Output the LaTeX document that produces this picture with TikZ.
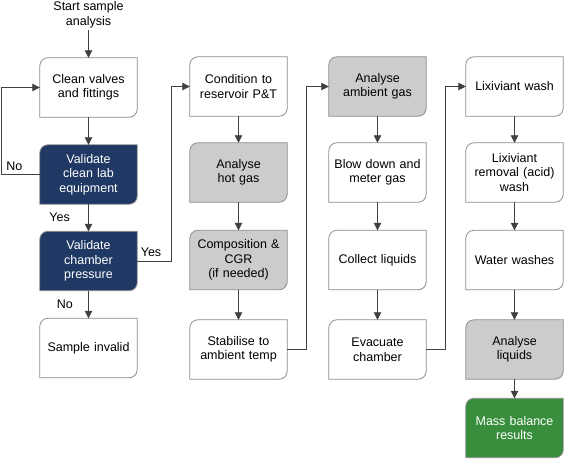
\documentclass[tikz,border=0pt]{standalone}
\usepackage{fontspec}
\setmainfont{Liberation Sans}
\usetikzlibrary{arrows.meta,backgrounds}

\definecolor{boxedge}{HTML}{8C8C8C}
\definecolor{wireline}{HTML}{404040}
\definecolor{checkblue}{HTML}{1F3864}
\definecolor{labgray}{HTML}{CCCCCC}
\definecolor{resultgreen}{HTML}{388E3C}

\tikzset{
  stepbox/.style={minimum width=97pt, minimum height=59pt, text width=93pt,
    align=center, inner sep=0pt, font=\fontsize{12.5}{14.5}\selectfont},
  checkbox/.style={stepbox, text=white},
  flow/.style={->, draw=wireline, line width=0.8pt},
  lbl/.style={font=\fontsize{12.5}{14.5}\selectfont},
}

% outline with rounded top-left and bottom-right corners
\newcommand{\leafbox}[2]{%
  \begin{pgfonlayer}{background}
    \path[draw=boxedge, line width=0.8pt, fill=#2]
      (#1.west) [rounded corners=8pt] -- (#1.north west) -- (#1.north)
      [sharp corners] -- (#1.north east) -- (#1.east)
      [rounded corners=8pt] -- (#1.south east) -- (#1.south)
      [sharp corners] -- (#1.south west) -- cycle;
  \end{pgfonlayer}}

\begin{document}
\begin{tikzpicture}[x=1pt, y=-1pt, >={Triangle[width=7.5pt,length=7.5pt]}]
\useasboundingbox (0,0) rectangle (564,459);

%------------------ COLUMN 1 (checks) ------------------%
\node[lbl, align=center, inner sep=2pt] (start) at (88.5,15) {Start sample\\analysis};
\node[stepbox] (clean) at (88.5,87.5) {Clean valves\\and fittings};
\node[checkbox] (labeq) at (88.5,174.5) {Validate\\clean lab\\equipment};
\node[checkbox] (press) at (88.5,261) {Validate\\chamber\\pressure};
\node[stepbox] (invalid) at (88.5,348) {Sample invalid};
\leafbox{clean}{white}
\leafbox{labeq}{checkblue}
\leafbox{press}{checkblue}
\leafbox{invalid}{white}

\draw[flow] (start) -- (clean);
\draw[flow] (clean) -- (labeq);
\draw[flow] (labeq) -- node[lbl, left=15pt] {Yes} (press);
\draw[flow] (press) -- node[lbl, left=12pt] {No} (invalid);
\draw[flow] (labeq.west) -- ++(-38,0) node[lbl, pos=0.67, above] {No} |- (clean.west);

%------------------ COLUMN 2 (hot) ------------------%
\node[stepbox] (cond) at (238.5,86.5) {Condition to\\reservoir P\&T};
\node[stepbox] (hotgas) at (238.5,172.5) {Analyse\\hot gas};
\node[stepbox] (cgr) at (238.5,260) {Composition \&\\CGR\\(if needed)};
\node[stepbox] (stab) at (238.5,349.5) {Stabilise to\\ambient temp};
\leafbox{cond}{white}
\leafbox{hotgas}{labgray}
\leafbox{cgr}{labgray}
\leafbox{stab}{white}

\draw[flow] (press.east) -- ++(34.5,0) node[lbl, pos=0.4, above=1pt] {Yes} |- (cond.west);
\draw[flow] (cond) -- (hotgas);
\draw[flow] (hotgas) -- (cgr);
\draw[flow] (cgr) -- (stab);

%------------------ COLUMN 3 (ambient) ------------------%
\node[stepbox] (ambgas) at (377.5,86.5) {Analyse\\ambient gas};
\node[stepbox] (blow) at (377.5,172.5) {Blow down and\\meter gas};
\node[stepbox] (collect) at (377.5,260) {Collect liquids};
\node[stepbox] (evac) at (377.5,349.5) {Evacuate\\chamber};
\leafbox{ambgas}{labgray}
\leafbox{blow}{white}
\leafbox{collect}{white}
\leafbox{evac}{white}

\draw[flow] (stab.east) -- ++(19,0) |- (ambgas.west);
\draw[flow] (ambgas) -- (blow);
\draw[flow] (blow) -- (collect);
\draw[flow] (collect) -- (evac);

%------------------ COLUMN 4 (washes) ------------------%
\node[stepbox] (lixwash) at (514.5,86.5) {Lixiviant wash};
\node[stepbox] (acidwash) at (514.5,172.5) {Lixiviant\\removal (acid)\\wash};
\node[stepbox] (water) at (514.5,260) {Water washes};
\node[stepbox] (liquids) at (514.5,349.5) {Analyse\\liquids};
\node[checkbox] (massbal) at (514.5,428) {Mass balance\\results};
\leafbox{lixwash}{white}
\leafbox{acidwash}{white}
\leafbox{water}{white}
\leafbox{liquids}{labgray}
\leafbox{massbal}{resultgreen}

\draw[flow] (evac.east) -- ++(19,0) |- (lixwash.west);
\draw[flow] (lixwash) -- (acidwash);
\draw[flow] (acidwash) -- (water);
\draw[flow] (water) -- (liquids);
\draw[flow] (liquids) -- (massbal);

\end{tikzpicture}
\end{document}
